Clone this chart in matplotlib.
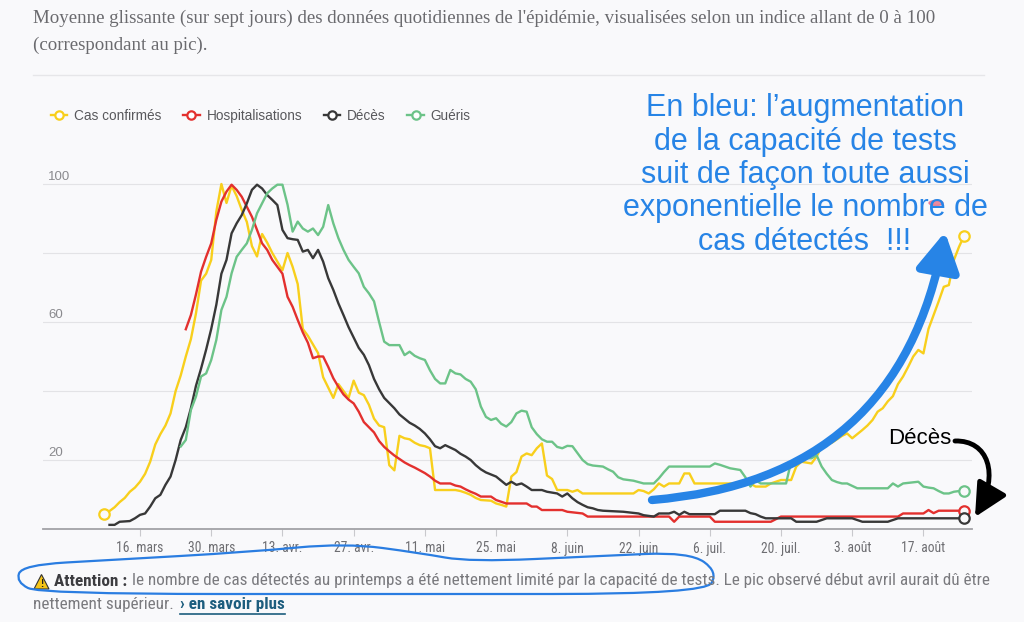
"""Indice 0-100 des données de l'épidémie (moyenne glissante sur sept jours)."""
import matplotlib
matplotlib.use("Agg")
import matplotlib.pyplot as plt
import matplotlib.transforms as mtransforms
from matplotlib import font_manager
from matplotlib.lines import Line2D
from matplotlib.patches import FancyArrowPatch, PathPatch, Polygon, Ellipse
from matplotlib.path import Path

# days counted from 16 March 2020
cas_days = [-7, -6, -5, -4, -3, -2, -1, 0, 1, 2, 3, 4, 5, 6, 7, 8, 9, 10, 11, 12, 13, 14,
            15, 16, 17, 18, 19, 20, 21, 22, 23, 24, 25, 26, 27, 28, 29, 30, 31, 32, 33,
            34, 35, 36, 37, 38, 39, 40, 41, 42, 43, 44, 45, 46, 47, 48, 49, 50, 51, 52,
            53, 54, 55, 56, 57, 58, 62, 63, 64, 65, 66, 67, 69, 70, 71, 72, 73, 74, 75,
            76, 77, 78, 79, 80, 81, 82, 84, 85, 86, 87, 97, 98, 99, 100, 101, 102, 103,
            104, 106, 107, 108, 109, 120, 121, 123, 124, 126, 128, 129, 130, 132, 133,
            134, 135, 136, 137, 138, 139, 140, 141, 142, 143, 144, 145, 146, 147, 148,
            149, 150, 151, 152, 153, 154, 155, 156, 157, 158, 159, 160, 161, 162]
cas_vals = [4.3, 5.2, 6.3, 7.8, 9.0, 10.8, 12.0, 13.7, 16.0, 19.5, 24.5, 27.5, 30.0, 33.5,
            40.0, 44.5, 50.0, 55.0, 62.5, 72.0, 74.0, 78.0, 92.0, 100.0, 94.5, 99.5, 96.5,
            92.5, 89.0, 82.0, 79.0, 85.5, 83.0, 80.0, 77.5, 75.0, 80.0, 76.0, 71.0, 58.0,
            56.0, 53.5, 51.0, 44.0, 41.0, 38.0, 42.0, 40.0, 38.0, 43.0, 39.5, 38.8, 36.0,
            32.0, 30.0, 29.5, 18.5, 17.0, 27.0, 26.3, 26.0, 25.0, 24.3, 24.0, 23.4, 11.3,
            11.3, 11.0, 10.5, 9.9, 9.0, 8.4, 8.2, 7.4, 7.0, 6.5, 15.2, 16.5, 21.0, 21.9,
            21.4, 23.4, 24.8, 15.5, 14.5, 11.3, 11.3, 10.8, 11.3, 10.3, 10.3, 11.3, 11.0,
            10.3, 11.5, 13.2, 12.3, 13.2, 13.2, 16.1, 16.1, 13.2, 13.2, 12.3, 12.3, 13.2,
            14.2, 14.2, 18.1, 19.5, 19.0, 21.0, 23.9, 24.5, 25.0, 26.0, 27.0, 27.7, 26.3,
            27.5, 28.7, 30.0, 31.6, 34.0, 35.0, 37.0, 38.5, 42.0, 44.2, 47.0, 50.0, 51.9,
            50.9, 58.0, 62.0, 66.0, 70.2, 70.7, 78.0, 81.8, 85.0]

hosp_days = [9, 10, 11, 12, 13, 14, 15, 16, 17, 18, 19, 20, 21, 22, 23, 24, 25, 26, 27, 28,
             29, 30, 31, 32, 33, 34, 35, 36, 37, 38, 39, 40, 41, 42, 43, 44, 45, 46, 47,
             48, 49, 50, 51, 52, 53, 54, 55, 56, 57, 58, 59, 61, 62, 63, 64, 65, 66, 67,
             69, 70, 71, 72, 76, 77, 78, 79, 83, 84, 87, 88, 104, 105, 106, 112, 113, 124,
             126, 149, 150, 154, 155, 156, 157, 162]
hosp_vals = [57.9, 62.0, 68.0, 74.6, 78.9, 82.8, 89.6, 94.9, 97.8, 99.8, 98.3, 96.3, 93.4,
             90.5, 86.7, 82.8, 80.9, 78.0, 76.0, 74.0, 67.3, 64.4, 60.6, 57.0, 54.0, 49.5,
             50.0, 50.0, 47.0, 43.7, 41.2, 39.0, 37.5, 36.4, 34.0, 31.0, 29.5, 28.0, 25.5,
             23.8, 22.5, 21.3, 20.3, 19.3, 18.5, 17.8, 17.0, 16.2, 15.2, 14.0, 13.2, 13.2,
             12.6, 12.3, 11.5, 10.8, 10.2, 9.4, 9.4, 8.4, 7.9, 7.4, 7.4, 6.5, 6.5, 5.5, 5.5,
             5.0, 4.5, 3.6, 3.6, 2.1, 3.6, 3.6, 2.1, 2.1, 3.6, 3.6, 4.5, 4.5, 5.5, 4.6, 5.3,
             5.3]

deces_days = [-6, -5, -4, -2, -1, 0, 1, 2, 3, 4, 5, 6, 7, 8, 9, 10, 11, 12, 13, 14, 15, 16,
              17, 18, 19, 20, 21, 22, 23, 24, 25, 26, 27, 28, 29, 30, 31, 32, 33, 34, 35,
              36, 37, 38, 39, 40, 41, 42, 43, 44, 45, 46, 47, 48, 49, 50, 51, 52, 53, 54,
              55, 56, 57, 58, 59, 60, 61, 62, 63, 64, 65, 66, 67, 68, 69, 70, 71, 72, 73,
              74, 75, 76, 77, 79, 80, 82, 83, 84, 85, 86, 87, 88, 89, 90, 91, 95, 98, 99,
              101, 102, 104, 105, 106, 107, 108, 113, 114, 119, 120, 121, 122, 123, 128,
              129, 133, 135, 140, 142, 147, 149, 162]
deces_vals = [1.2, 1.2, 2.1, 2.3, 3.1, 4.1, 4.5, 6.5, 8.9, 9.9, 12.8, 15.2, 20.0, 25.8,
              29.5, 35.0, 41.5, 46.5, 52.0, 58.0, 65.0, 74.0, 78.0, 85.7, 88.6, 91.0, 94.4,
              98.3, 99.8, 98.7, 96.8, 95.4, 93.9, 86.7, 84.3, 84.0, 83.8, 80.4, 80.9, 78.5,
              80.9, 77.5, 72.7, 69.3, 65.4, 62.0, 58.5, 55.5, 52.5, 50.5, 47.5, 43.5, 40.5,
              38.0, 36.5, 35.0, 33.2, 32.0, 30.8, 30.0, 29.0, 27.7, 26.0, 24.0, 23.4, 24.3,
              23.6, 22.9, 21.8, 21.0, 20.0, 18.5, 17.3, 16.4, 15.8, 15.2, 14.0, 12.8, 13.7,
              12.8, 13.2, 12.3, 11.3, 11.3, 10.8, 10.3, 9.4, 10.3, 8.9, 7.8, 7.0, 6.3, 6.0,
              5.5, 5.3, 5.0, 4.5, 4.0, 3.6, 4.5, 4.5, 5.0, 4.1, 5.0, 4.3, 4.3, 5.3, 5.3, 4.6,
              4.3, 3.6, 3.1, 3.1, 2.1, 2.1, 3.1, 3.1, 2.1, 2.1, 3.1, 3.1]

gueris_days = [8, 9, 10, 11, 12, 13, 14, 15, 16, 17, 18, 19, 20, 21, 22, 23, 24, 25, 26, 27,
               28, 29, 30, 31, 32, 33, 34, 35, 36, 37, 38, 39, 40, 41, 42, 43, 44, 45, 46,
               47, 48, 49, 51, 52, 53, 54, 55, 56, 57, 58, 59, 60, 61, 62, 63, 64, 65, 66,
               67, 68, 69, 70, 71, 72, 73, 74, 75, 76, 77, 78, 79, 80, 81, 82, 83, 84, 85,
               86, 87, 88, 89, 91, 92, 93, 94, 95, 97, 98, 99, 101, 102, 103, 104, 112, 113,
               114, 116, 118, 119, 120, 121, 122, 127, 128, 129, 130, 132, 133, 134, 135,
               136, 137, 138, 139, 140, 141, 147, 148, 149, 150, 153, 154, 155, 156, 157,
               158, 159, 160, 161, 162]
gueris_vals = [23.9, 25.8, 34.5, 38.4, 44.2, 45.1, 49.0, 54.8, 63.5, 67.3, 74.1, 78.9, 80.9,
               82.8, 86.7, 91.5, 94.4, 97.3, 98.7, 99.8, 99.8, 94.0, 86.2, 89.1, 87.1, 86.2,
               87.1, 85.2, 87.6, 93.9, 88.6, 84.3, 80.9, 78.0, 76.0, 74.1, 70.2, 68.3, 66.0,
               60.0, 54.3, 53.3, 53.3, 50.4, 51.4, 50.2, 49.5, 49.0, 46.0, 43.5, 42.2, 42.2,
               46.1, 45.1, 44.8, 43.5, 42.7, 40.5, 35.5, 32.5, 31.6, 32.1, 30.5, 29.7, 31.0,
               33.5, 34.3, 34.0, 29.5, 27.5, 26.0, 25.3, 25.3, 23.8, 23.4, 24.1, 24.0, 22.0,
               20.0, 18.8, 18.4, 18.1, 17.3, 16.6, 15.0, 14.4, 14.0, 13.6, 13.2, 13.2, 14.7,
               16.5, 18.1, 18.1, 19.0, 18.6, 17.6, 17.1, 15.0, 12.3, 14.2, 13.2, 13.2, 19.5,
               19.8, 20.5, 20.5, 21.4, 18.1, 16.0, 14.2, 13.6, 13.2, 13.2, 12.5, 11.8, 11.8,
               13.2, 12.3, 13.2, 13.7, 12.3, 12.0, 11.8, 11.0, 10.3, 10.3, 10.8, 11.0, 11.0]

tick_days = [0, 14, 28, 42, 56, 70, 84, 98, 112, 126, 140, 154]
tick_labels = ["16. mars", "30. mars", "13. avr.", "27. avr.", "11. mai", "25. mai",
               "8. juin", "22. juin", "6. juil.", "20. juil.", "3. août", "17. août"]
y_labels = [20, 60, 100]

series = [
    ("Cas confirmés", cas_days, cas_vals, "#f8cf1c"),
    ("Hospitalisations", hosp_days, hosp_vals, "#e3302e"),
    ("Décès", deces_days, deces_vals, "#383838"),
    ("Guéris", gueris_days, gueris_vals, "#6cc388"),
]

W, H = 1024, 622
BG = "#f9f9fb"
BLUE = "#2784e6"

_names = {f.name for f in font_manager.fontManager.ttflist}


def pick(*fams):
    for f in fams:
        if f in _names:
            return f
    return "DejaVu Sans"


NARROW = pick("Liberation Sans Narrow", "Roboto Condensed", "Liberation Sans")
narrow_ok = NARROW != "Liberation Sans"
SANS = pick("Liberation Sans", "DejaVu Sans")
SERIF = pick("Liberation Serif", "DejaVu Serif")


def fx(px):
    return px / W


def fy(py):
    return 1 - py / H


fig = plt.figure(figsize=(W / 100, H / 100), dpi=100, facecolor=BG)

# plot area: 0 at y=529 px, 3.45 px per unit, x from 43 to 972 px
ax = fig.add_axes([fx(43), fy(529), (972 - 43) / W, 105 * 3.45 / H])
ax.set_facecolor(BG)
ax.set_xlim(-19.07, 163.55)
ax.set_ylim(0, 105)
for side in ("top", "right", "left"):
    ax.spines[side].set_visible(False)
ax.spines["bottom"].set_color("#a2a2a6")
ax.spines["bottom"].set_linewidth(1.3)

ax.set_yticks([20, 40, 60, 80, 100])
ax.yaxis.grid(True, color="#e3e3e6", lw=0.8)
ax.tick_params(axis="y", length=0, labelleft=False)
ax.set_axisbelow(True)
ylab_tr = mtransforms.blended_transform_factory(ax.transAxes, ax.transData)
for v in y_labels:
    ax.text(0.0055, v + 2.0, str(v), transform=ylab_tr, ha="left", va="center",
            fontsize=9.5, color="#8a8a8e", family=SANS)

ax.set_xticks(tick_days)
ax.set_xticklabels(tick_labels, family=NARROW, fontsize=9.8 if narrow_ok else 8.6)
ax.tick_params(axis="x", length=5, width=0.8, color="#c9c9cd", labelcolor="#6e6e72",
               pad=4)

for i, (name, d, v, c) in enumerate(series):
    ax.plot(d, v, color=c, lw=1.7, solid_joinstyle="round", clip_on=False, zorder=3 + i)
    ax.plot(d[-1], v[-1], "o", ms=7.5, mfc=BG, mec=c, mew=1.6, clip_on=False, zorder=8)
ax.plot(cas_days[0], cas_vals[0], "o", ms=7.5, mfc=BG, mec=series[0][3], mew=1.6,
        clip_on=False, zorder=8)

handles = [Line2D([0], [0], color=c, lw=1.7, marker="o", ms=6, mfc="white", mec=c,
                  mew=1.6) for _, _, _, c in series]
fig.legend(handles, [s[0] for s in series], loc="center left",
           bbox_to_anchor=(fx(51), fy(116)), ncol=4, frameon=False,
           labelcolor="#58585c", handlelength=1.2, handletextpad=0.5, columnspacing=1.6,
           borderpad=0, borderaxespad=0, prop={"family": SANS, "size": 9.8})

# header
fig.text(fx(33), fy(18), "Moyenne glissante (sur sept jours) des données quotidiennes de "
         "l'épidémie, visualisées selon un indice allant de 0 à 100", family=SERIF,
         fontsize=13.6, color="#6a6a6e", va="center")
fig.text(fx(33), fy(45), "(correspondant au pic).", family=SERIF, fontsize=13.6,
         color="#6a6a6e", va="center")
fig.add_artist(Line2D([fx(33), fx(984)], [fy(75), fy(75)], color="#e6e6e9", lw=1))

# footer note
fs_note = 12.3 if narrow_ok else 10.0
fig.add_artist(Polygon([(fx(34), fy(589)), (fx(41.5), fy(574.5)), (fx(49), fy(589))],
                       closed=True, fc="#f5c518", ec="#333333", lw=0.8))
fig.text(fx(41.5), fy(584), "!", ha="center", va="center", fontsize=7, weight="bold",
         color="#222222", family=SANS)
renderer = fig.canvas.get_renderer()
t1 = fig.text(fx(54), fy(581), "Attention :", family=NARROW, fontsize=fs_note,
              weight="bold", color="#3c3c40", va="center")
x1 = t1.get_window_extent(renderer).x1
fig.text((x1 + 5) / W, fy(581), "le nombre de cas détectés au printemps a été nettement "
         "limité par la capacité de tests. Le pic observé début avril aurait dû être",
         family=NARROW, fontsize=fs_note, color="#7a7a7e", va="center")
t3 = fig.text(fx(33), fy(605), "nettement supérieur.", family=NARROW, fontsize=fs_note,
              color="#7a7a7e", va="center")
x3 = t3.get_window_extent(renderer).x1
t4 = fig.text((x3 + 6) / W, fy(605), "› en savoir plus", family=NARROW, fontsize=fs_note,
              weight="bold", color="#1d5d7e", va="center")
bb4 = t4.get_window_extent(renderer)
fig.add_artist(Line2D([bb4.x0 / W, bb4.x1 / W], [fy(614), fy(614)], color="#1d5d7e",
                      lw=1.2))

# hand-drawn overlays
pts = [(22, 565), (110, 560), (250, 552), (345, 543), (420, 553), (470, 562), (600, 556),
       (690, 552), (718, 572), (705, 594), (400, 594), (40, 594), (16, 582)]
n = len(pts)
mids = [((pts[i][0] + pts[(i + 1) % n][0]) / 2, (pts[i][1] + pts[(i + 1) % n][1]) / 2)
        for i in range(n)]
verts = [mids[0]]
codes = [Path.MOVETO]
for i in range(1, n + 1):
    verts += [pts[i % n], mids[i % n]]
    codes += [Path.CURVE3, Path.CURVE3]
verts = [(fx(x), fy(y)) for x, y in verts]
fig.add_artist(PathPatch(Path(verts, codes), fill=False, ec="#2a7de1", lw=1.6,
                         transform=fig.transFigure))

fig.add_artist(Ellipse((fx(936), fy(203)), 14 / W, 5 / H, color="#e8708a", alpha=0.8,
                       transform=fig.transFigure, zorder=1))
fig.text(fx(805), fy(175), "En bleu: l’augmentation\nde la capacité de tests\n"
         "suit de façon toute aussi\nexponentielle le nombre de\ncas détectés  !!!",
         ha="center", va="center", multialignment="center", fontsize=22, color=BLUE,
         family=SANS, linespacing=1.15, zorder=5)

blue_path = Path([(fx(652), fy(500)), (fx(900), fy(480)), (fx(945), fy(232))],
                 [Path.MOVETO, Path.CURVE3, Path.CURVE3])
fig.add_artist(FancyArrowPatch(path=blue_path, arrowstyle="-|>,head_length=23,head_width=13",
                               mutation_scale=1, lw=6, color=BLUE, transform=fig.transFigure,
                               zorder=6))

fig.text(fx(920), fy(439), "Décès", ha="center", va="center", fontsize=16, color="black",
         family=SANS)
black_path = Path([(fx(955), fy(441)), (fx(988), fy(440)), (fx(1000), fy(474)),
                   (fx(975), fy(517))], [Path.MOVETO, Path.CURVE4, Path.CURVE4, Path.CURVE4])
fig.add_artist(FancyArrowPatch(path=black_path, arrowstyle="-|>,head_length=20,head_width=10",
                               mutation_scale=1, lw=3.5, color="black",
                               transform=fig.transFigure, zorder=6))

fig.savefig("out.png", dpi=100, facecolor=BG)
